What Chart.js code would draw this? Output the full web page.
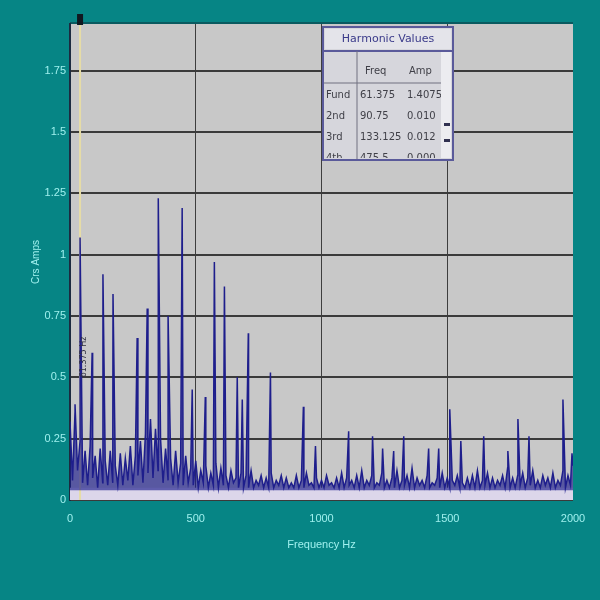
<!DOCTYPE html>
<html>
<head>
<meta charset="utf-8">
<script src="https://cdn.jsdelivr.net/npm/chart.js@4/dist/chart.umd.min.js"></script>
<style>
  body { margin: 0; background: #068585; }
  #wrap { width: 600px; height: 600px; }
</style>
</head>
<body>
<div id="wrap"><canvas id="spec" width="600" height="600"></canvas></div>
<script>
// tick labels
const freqTicks = [0, 500, 1000, 1500, 2000];
const ampTicks = [0, 0.25, 0.5, 0.75, 1, 1.25, 1.5, 1.75];
const ampLabels = ['0', '0.25', '0.5', '0.75', '1', '1.25', '1.5', '1.75'];

// noise floor, one value every 10 Hz from 0 to 2000 Hz
const floorStep = 10;
const floorAmp = [
  0.32, 0.08, 0.36, 0.12, 0.24, 0.07, 0.20, 0.06, 0.22, 0.09,
  0.18, 0.05, 0.21, 0.07, 0.16, 0.06, 0.20, 0.07, 0.14, 0.06,
  0.19, 0.06, 0.17, 0.08, 0.22, 0.06, 0.18, 0.10, 0.24, 0.07,
  0.27, 0.11, 0.33, 0.09, 0.29, 0.12, 0.25, 0.07, 0.21, 0.08,
  0.17, 0.06, 0.20, 0.07, 0.15, 0.06, 0.18, 0.07, 0.13, 0.06,
  0.16, 0.05, 0.12, 0.07, 0.14, 0.05, 0.11, 0.06, 0.15, 0.05,
  0.13, 0.06, 0.10, 0.05, 0.12, 0.07, 0.09, 0.05, 0.11, 0.05,
  0.10, 0.05, 0.12, 0.05, 0.08, 0.06, 0.10, 0.05, 0.09, 0.05,
  0.11, 0.05, 0.08, 0.06, 0.10, 0.05, 0.09, 0.05, 0.07, 0.05,
  0.10, 0.05, 0.08, 0.05, 0.11, 0.06, 0.07, 0.05, 0.09, 0.05,
  0.08, 0.05, 0.10, 0.06, 0.07, 0.05, 0.09, 0.05, 0.11, 0.05,
  0.09, 0.06, 0.08, 0.05, 0.10, 0.05, 0.12, 0.05, 0.08, 0.06,
  0.10, 0.05, 0.07, 0.06, 0.11, 0.05, 0.08, 0.05, 0.09, 0.05,
  0.12, 0.05, 0.08, 0.06, 0.10, 0.05, 0.13, 0.05, 0.09, 0.06,
  0.08, 0.05, 0.10, 0.05, 0.07, 0.06, 0.09, 0.05, 0.11, 0.05,
  0.09, 0.05, 0.08, 0.06, 0.10, 0.05, 0.07, 0.05, 0.09, 0.05,
  0.10, 0.05, 0.12, 0.05, 0.08, 0.06, 0.11, 0.05, 0.09, 0.05,
  0.08, 0.06, 0.10, 0.05, 0.13, 0.05, 0.09, 0.05, 0.10, 0.06,
  0.11, 0.05, 0.09, 0.06, 0.12, 0.05, 0.08, 0.05, 0.10, 0.06,
  0.09, 0.05, 0.11, 0.05, 0.08, 0.06, 0.12, 0.05, 0.10, 0.06,
  0.14
];

// harmonic spikes
const peakFreq = [20, 40, 88, 131, 171, 267, 307, 351, 390, 446, 486, 538, 574, 614, 665, 685, 709, 797,
  928, 976, 1108, 1203, 1243, 1287, 1327, 1426, 1466, 1510, 1554, 1645, 1741, 1781, 1825, 1960, 1996];
const peakAmp = [0.39, 1.07, 0.60, 0.92, 0.84, 0.66, 0.78, 1.23, 0.75, 1.19, 0.45, 0.42, 0.97, 0.87, 0.50, 0.41, 0.68, 0.52,
  0.38, 0.22, 0.28, 0.26, 0.21, 0.20, 0.26, 0.21, 0.21, 0.37, 0.24, 0.26, 0.20, 0.33, 0.26, 0.41, 0.19];

// inset table
const harmonicNames = ['Fund', '2nd', '3rd', '4th'];
const harmonicFreq = ['61.375', '90.75', '133.125', '475.5'];
const harmonicAmp = ['1.4075', '0.010', '0.012', '0.000'];

const cursorFreq = 40;

// merge floor and spikes into one sorted list of points
const spectrum = floorAmp.map((a, i) => ({ x: i * floorStep, y: a }))
  .concat(peakFreq.map((f, i) => ({ x: f, y: peakAmp[i] })))
  .sort((a, b) => a.x - b.x);

const labelColor = '#9ff0ee';

const decor = {
  id: 'decor',
  beforeDatasetsDraw(chart) {
    const { ctx, chartArea: a, scales: { x, y } } = chart;
    ctx.save();
    // pale band along the bottom
    ctx.fillStyle = '#dcd6ea';
    ctx.fillRect(a.left, y.getPixelForValue(0.05), a.right - a.left, a.bottom - y.getPixelForValue(0.05));
    // cursor line
    const cx = x.getPixelForValue(cursorFreq);
    ctx.strokeStyle = '#e6dca6';
    ctx.lineWidth = 2;
    ctx.beginPath();
    ctx.moveTo(cx, a.top);
    ctx.lineTo(cx, a.bottom);
    ctx.stroke();
    ctx.restore();
  },
  beforeDraw(chart) {
    const { ctx, chartArea: a } = chart;
    ctx.save();
    ctx.fillStyle = '#c8c8c8';
    ctx.fillRect(a.left, a.top, a.right - a.left, a.bottom - a.top);
    ctx.fillStyle = '#0a5a60';
    ctx.fillRect(a.left, a.top - 2, a.right - a.left, 2);
    ctx.restore();
  },
  afterDraw(chart) {
    const { ctx, chartArea: a, scales: { x, y } } = chart;
    ctx.save();
    // cursor handle
    const cx = x.getPixelForValue(cursorFreq);
    ctx.fillStyle = '#101820';
    ctx.fillRect(cx - 3, a.top - 10, 6, 11);
    // cursor readout
    ctx.translate(cx + 4, y.getPixelForValue(0.5));
    ctx.rotate(-Math.PI / 2);
    ctx.fillStyle = '#303040';
    ctx.font = '8px "DejaVu Sans"';
    ctx.textBaseline = 'middle';
    ctx.fillText('61.375 Hz', 0, 0);
    ctx.restore();

    // harmonic table
    const tx = 323, ty = 27, tw = 130, th = 133;
    ctx.save();
    ctx.fillStyle = '#d6d6dc';
    ctx.fillRect(tx, ty, tw, th);
    ctx.fillStyle = '#e4e4ea';
    ctx.fillRect(tx + 2, ty + 2, tw - 4, 20);
    ctx.strokeStyle = '#5a5a9a';
    ctx.lineWidth = 2;
    ctx.beginPath();
    ctx.moveTo(tx, ty + 24); ctx.lineTo(tx + tw, ty + 24);
    ctx.stroke();
    ctx.lineWidth = 1;
    ctx.strokeStyle = '#707080';
    ctx.beginPath();
    ctx.moveTo(tx, ty + 56); ctx.lineTo(tx + tw - 12, ty + 56);
    ctx.moveTo(tx + 34, ty + 24); ctx.lineTo(tx + 34, ty + th);
    ctx.stroke();
    // scroll bar
    ctx.fillStyle = '#ececf0';
    ctx.fillRect(tx + tw - 12, ty + 25, 10, th - 27);
    ctx.fillStyle = '#303050';
    ctx.fillRect(tx + tw - 9, ty + 96, 6, 3);
    ctx.fillRect(tx + tw - 9, ty + 112, 6, 3);
    ctx.font = '11px "DejaVu Sans"';
    ctx.fillStyle = '#3a3a8a';
    ctx.textAlign = 'center';
    ctx.textBaseline = 'middle';
    ctx.fillText('Harmonic Values', tx + tw / 2, ty + 12);
    ctx.font = '10px "DejaVu Sans"';
    ctx.fillStyle = '#404048';
    ctx.textAlign = 'left';
    ctx.fillText('Freq', tx + 42, ty + 44);
    ctx.fillText('Amp', tx + 86, ty + 44);
    // rows, last one cut off by the table edge
    ctx.beginPath();
    ctx.rect(tx, ty + 25, tw - 12, th - 27);
    ctx.clip();
    harmonicNames.forEach((n, i) => {
      const ry = ty + 68 + i * 21;
      ctx.fillText(n, tx + 3, ry);
      ctx.fillText(harmonicFreq[i], tx + 37, ry);
      ctx.fillText(harmonicAmp[i], tx + 84, ry);
    });
    ctx.restore();
    ctx.save();
    ctx.strokeStyle = '#5a5a9a';
    ctx.lineWidth = 2;
    ctx.strokeRect(tx, ty, tw, th);
    ctx.restore();
  }
};

new Chart(document.getElementById('spec'), {
  type: 'line',
  data: {
    datasets: [{
      data: spectrum,
      borderColor: '#1e1e8c',
      backgroundColor: 'rgba(28,28,140,0.65)',
      borderWidth: 1.5,
      pointRadius: 0,
      tension: 0,
      fill: { value: 0.04 }
    }]
  },
  options: {
    responsive: false,
    animation: false,
    layout: { padding: { left: 30, right: 27, top: 24, bottom: 44 } },
    plugins: { legend: { display: false }, tooltip: { enabled: false } },
    scales: {
      x: {
        type: 'linear',
        min: 0,
        max: 2000,
        afterBuildTicks(scale) { scale.ticks = freqTicks.map(v => ({ value: v })); },
        afterFit(scale) { scale.height = 56; },
        ticks: {
          color: labelColor,
          font: { size: 11, family: 'Arial' },
          padding: 12,
          maxRotation: 0,
          callback: v => String(v)
        },
        grid: {
          color: ctx => (ctx.tick && (ctx.tick.value === 0 || ctx.tick.value === 2000)) ? 'rgba(0,0,0,0)' : '#3e3e3e',
          lineWidth: 1,
          drawTicks: false
        },
        border: { display: false },
        title: { display: true, text: 'Frequency Hz', color: labelColor, font: { size: 11, family: 'Arial' }, padding: { top: 10 } }
      },
      y: {
        type: 'linear',
        min: 0,
        max: 1.94,
        afterBuildTicks(scale) { scale.ticks = ampTicks.map(v => ({ value: v })); },
        afterFit(scale) { scale.width = 40; },
        ticks: {
          color: labelColor,
          font: { size: 11, family: 'Arial' },
          padding: 4,
          callback: (v) => ampLabels[ampTicks.indexOf(v)]
        },
        grid: { color: '#3a3a3a', lineWidth: 2, drawTicks: false },
        border: { display: true, color: '#1c2a40', width: 2 },
        title: { display: true, text: 'Crs Amps', color: labelColor, font: { size: 10, family: 'Arial' }, padding: { top: 0, bottom: 0 } }
      }
    }
  },
  plugins: [decor]
});
</script>
</body>
</html>
